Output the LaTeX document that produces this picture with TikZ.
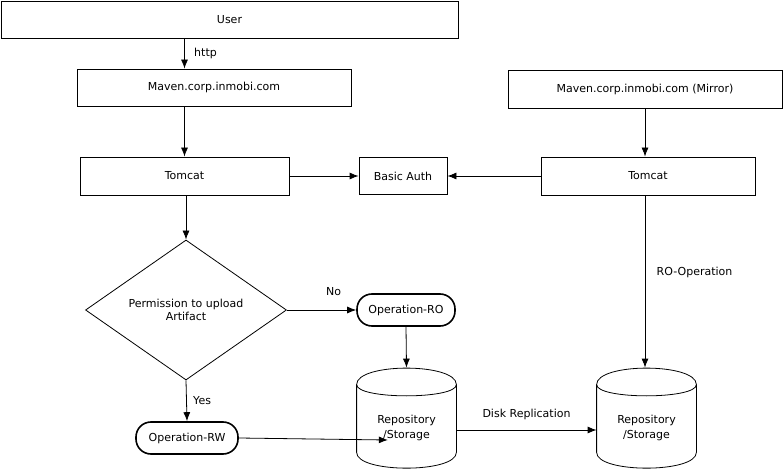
\documentclass[tikz,border=0pt]{standalone}
\usepackage{fontspec}
\setmainfont{DejaVu Sans}
\usetikzlibrary{shapes.geometric,positioning,calc,arrows.meta}

\begin{document}
\begin{tikzpicture}[x=1pt, y=-1pt, line width=0.8pt, font=\fontsize{11}{13.5}\selectfont]
    \tikzset{>={Latex[length=9pt,width=7pt]}}
    \tikzset{box/.style = {draw, inner sep=0pt, align=center},
             oper/.style = {draw, line width=1.6pt, rounded corners=15pt, inner sep=0pt, minimum width=98, minimum height=32},
             store/.style = {inner sep=0pt, minimum width=99, minimum height=100, align=center}}

    \useasboundingbox (0,0) rectangle (784,470);

    \node[box, minimum width=457, minimum height=37] (user) at (229.5,19.5) {User};
    \node[box, minimum width=274, minimum height=37] (maven) at (214,87.5) {Maven.corp.inmobi.com};
    \node[box, minimum width=274, minimum height=38] (mirror) at (645,89) {Maven.corp.inmobi.com (Mirror)};

    \node[box, minimum width=209, minimum height=38] (tomL) at (184.5,176) {Tomcat};
    \node[box, minimum width=88, minimum height=37] (auth) at (403,176) {Basic Auth};
    \node[box, minimum width=214, minimum height=38] (tomR) at (648,176) {Tomcat};

    \node[draw, diamond, inner sep=0pt, minimum width=201, minimum height=140, align=center] (perm) at (186,310) {Permission to upload\\Artifact};

    \node[oper] (opro) at (406,310) {Operation-RO};
    \node[oper, minimum width=102] (oprw) at (187,438) {Operation-RW};

    \node[store] (repoL) at (406.5,418) {\mbox{}\\[15pt]Repository\\[1.5pt]/Storage};
    \node[store] (repoR) at (646.5,418) {\mbox{}\\[15pt]Repository\\[1.5pt]/Storage};

    % storage outlines
    \foreach \s in {repoL,repoR} {
        \draw ($(\s.north west)+(0,17)$) .. controls +(0,-22) and +(0,-22) .. ($(\s.north east)+(0,17)$)
              -- ($(\s.south east)+(0,-16)$) .. controls +(0,21) and +(0,21) .. ($(\s.south west)+(0,-16)$) -- cycle;
        \draw ($(\s.north west)+(0,17)$) .. controls +(0,15) and +(0,15) .. ($(\s.north east)+(0,17)$);
    }

    % free end inside the left store
    \coordinate (rwEnd) at ($(oprw.east)+(149,2)$);

    \draw[->] (user.south -| tomL) -- (maven.north -| tomL) node[midway, right, xshift=6pt] {http};
    \draw[->] (maven.south -| tomL) -- (tomL.north);
    \draw[->] (tomL.east) -- (auth.west);
    \draw[->] (mirror.south) -- (mirror.south |- tomR.north);
    \draw[->] (tomR.west) -- (auth.east);
    \draw[->] (tomL.south -| perm) -- (perm.north);
    \draw[->] (perm.east) -- (opro.west) node[midway, above, yshift=11pt, xshift=12pt] {No};
    \draw[->] (perm.south) -- (oprw.north) node[midway, right, xshift=3pt] {Yes};
    \draw[->] (opro.south) -- (repoL.north);
    \draw[->] (tomR.south -| mirror) -- (repoR.north -| mirror) node[pos=0.45, right, xshift=8pt] {RO-Operation};
    \draw[->] (oprw.east) -- (rwEnd);
    \draw[->] ([yshift=-12pt]repoL.east) -- ([yshift=-12pt]repoR.west) node[midway, above, yshift=6pt] {Disk Replication};

\end{tikzpicture}
\end{document}
